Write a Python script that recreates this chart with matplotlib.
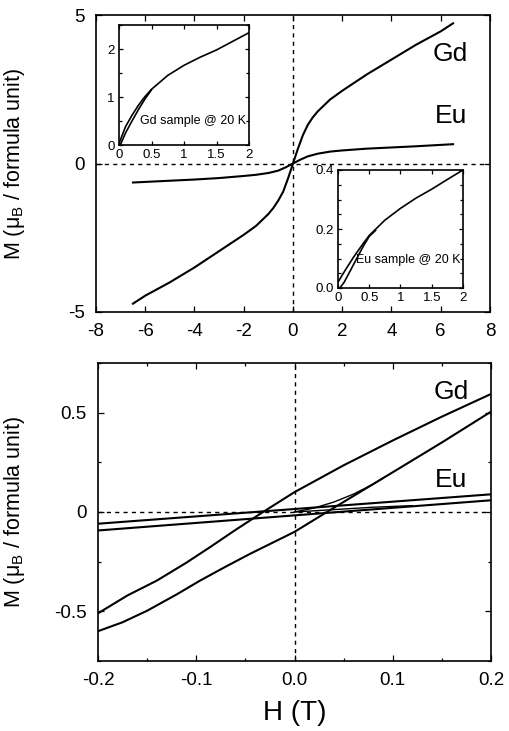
import matplotlib
matplotlib.use("Agg")
import matplotlib.pyplot as plt
from matplotlib.ticker import MultipleLocator

plt.rcParams['font.family'] = ['Liberation Sans', 'DejaVu Sans']
plt.rcParams['mathtext.default'] = 'regular'
plt.rcParams['axes.unicode_minus'] = False

# Top panel: full M(H) curves at 20 K
gd_h = [-6.5, -6, -5, -4, -3, -2, -1.5, -1.0, -0.8, -0.6, -0.4, -0.2, 0,
        0.2, 0.4, 0.6, 0.8, 1.0, 1.5, 2, 3, 4, 5, 6, 6.5]
gd_m = [-4.72, -4.45, -4.0, -3.5, -2.95, -2.4, -2.1, -1.7, -1.5, -1.25, -0.95, -0.5, 0,
        0.5, 0.95, 1.3, 1.55, 1.75, 2.15, 2.45, 3.0, 3.5, 4.0, 4.45, 4.72]
eu_h = [-6.5, -5, -4, -3, -2, -1.5, -1, -0.6, -0.3, 0, 0.3, 0.6, 1, 1.5, 2, 3, 4, 5, 6.5]
eu_m = [-0.64, -0.58, -0.54, -0.49, -0.42, -0.38, -0.32, -0.24, -0.13, 0,
        0.13, 0.24, 0.33, 0.4, 0.44, 0.5, 0.54, 0.58, 0.65]

# Insets: low-field region
gd_in_h_up = [0, 0.1, 0.2, 0.3, 0.4, 0.5, 0.75, 1, 1.25, 1.5, 1.75, 2]
gd_in_m_up = [0.03, 0.38, 0.62, 0.83, 1.01, 1.16, 1.45, 1.66, 1.83, 1.98, 2.16, 2.34]
gd_in_h_lo = [0.02, 0.1, 0.2, 0.3, 0.4, 0.5]
gd_in_m_lo = [0, 0.25, 0.5, 0.74, 0.96, 1.15]
eu_in_h_up = [0, 0.1, 0.25, 0.4, 0.5, 0.75, 1, 1.25, 1.5, 1.75, 2]
eu_in_m_up = [0.02, 0.055, 0.105, 0.15, 0.178, 0.23, 0.27, 0.305, 0.335, 0.368, 0.4]
eu_in_h_lo = [0.03, 0.1, 0.25, 0.4, 0.5, 0.6]
eu_in_m_lo = [0, 0.02, 0.08, 0.14, 0.175, 0.195]

# Bottom panel: hysteresis near zero field
gd_desc_h = [-0.2, -0.17, -0.14, -0.11, -0.086, -0.06, -0.032, 0.0, 0.05, 0.1, 0.15, 0.2]
gd_desc_m = [-0.51, -0.42, -0.345, -0.255, -0.177, -0.09, 0.0, 0.1, 0.235, 0.36, 0.48, 0.594]
gd_asc_h = [-0.2, -0.175, -0.15, -0.12, -0.096, -0.07, -0.045, 0.0, 0.033, 0.1, 0.15, 0.2]
gd_asc_m = [-0.6, -0.555, -0.497, -0.415, -0.345, -0.275, -0.21, -0.1, 0.0, 0.2, 0.35, 0.505]
gd_virgin_h = [0, 0.02, 0.04, 0.06, 0.08, 0.09]
gd_virgin_m = [0, 0.02, 0.05, 0.09, 0.14, 0.17]
eu_desc_h = [-0.2, 0.2]
eu_desc_m = [-0.059, 0.089]
eu_asc_h = [-0.2, 0.2]
eu_asc_m = [-0.093, 0.059]
eu_virgin_h = [0, 0.04, 0.08, 0.12]
eu_virgin_m = [0, 0.012, 0.024, 0.032]

W, H = 510, 731
fig = plt.figure(figsize=(5.1, 7.31), dpi=100)


def box(l, t, r, b):
    return [l / W, 1 - b / H, (r - l) / W, (b - t) / H]


def style(ax, size, pad=6):
    ax.tick_params(which='both', direction='in', top=True, right=True,
                   labelsize=size, width=0.9, pad=pad)
    ax.tick_params(which='major', length=4)
    ax.tick_params(which='minor', length=2.5)
    for s in ax.spines.values():
        s.set_linewidth(1.2)


lw = 1.5

# top panel
ax1 = fig.add_axes(box(96, 15, 490, 312))
ax1.plot(gd_h, gd_m, color='black', lw=lw)
ax1.plot(eu_h, eu_m, color='black', lw=lw)
ax1.axhline(0, color='black', ls=(0, (3, 3)), lw=1.0)
ax1.axvline(0, color='black', ls=(0, (3, 3)), lw=1.0)
ax1.set_xlim(-8, 8)
ax1.set_ylim(-5, 5)
ax1.set_xticks([-8, -6, -4, -2, 0, 2, 4, 6, 8])
ax1.set_yticks([-5, 0, 5])
style(ax1, 13.5, pad=8)
ax1.set_ylabel('M (μ$_B$ / formula unit)', fontsize=15.5)
ax1.yaxis.set_label_coords(-0.175, 0.5)
ax1.text(6.4, 3.7, 'Gd', fontsize=19, ha='center', va='center')
ax1.text(6.4, 1.6, 'Eu', fontsize=19, ha='center', va='center')

# Gd inset
ins1 = fig.add_axes(box(119, 25, 249, 145))
ins1.plot(gd_in_h_up, gd_in_m_up, color='black', lw=1.2)
ins1.plot(gd_in_h_lo, gd_in_m_lo, color='black', lw=1.2)
ins1.set_xlim(0, 2)
ins1.set_ylim(0, 2.5)
ins1.set_xticks([0, 0.5, 1, 1.5, 2])
ins1.set_xticklabels(['0', '0.5', '1', '1.5', '2'])
ins1.set_yticks([0, 1, 2])
ins1.yaxis.set_minor_locator(MultipleLocator(0.5))
style(ins1, 9.5, pad=3)
ins1.tick_params(which='major', length=3)
ins1.text(1.14, 0.49, 'Gd sample @ 20 K', fontsize=9, ha='center', va='center')

# Eu inset
ins2 = fig.add_axes(box(338, 170, 463, 288))
ins2.plot(eu_in_h_up, eu_in_m_up, color='black', lw=1.2)
ins2.plot(eu_in_h_lo, eu_in_m_lo, color='black', lw=1.2)
ins2.set_xlim(0, 2)
ins2.set_ylim(0, 0.4)
ins2.set_xticks([0, 0.5, 1, 1.5, 2])
ins2.set_xticklabels(['0', '0.5', '1', '1.5', '2'])
ins2.set_yticks([0, 0.2, 0.4])
ins2.set_yticklabels(['0.0', '0.2', '0.4'])
ins2.yaxis.set_minor_locator(MultipleLocator(0.05))
style(ins2, 9.5, pad=3)
ins2.tick_params(which='major', length=3)
ins2.text(1.13, 0.094, 'Eu sample @ 20 K', fontsize=9, ha='center', va='center')

# bottom panel
ax2 = fig.add_axes(box(98, 363, 491, 661))
ax2.plot(gd_desc_h, gd_desc_m, color='black', lw=lw)
ax2.plot(gd_asc_h, gd_asc_m, color='black', lw=lw)
ax2.plot(gd_virgin_h, gd_virgin_m, color='black', lw=1.0)
ax2.plot(eu_desc_h, eu_desc_m, color='black', lw=lw)
ax2.plot(eu_asc_h, eu_asc_m, color='black', lw=lw)
ax2.plot(eu_virgin_h, eu_virgin_m, color='black', lw=1.0)
ax2.axhline(0, color='black', ls=(0, (3, 3)), lw=1.0)
ax2.axvline(0, color='black', ls=(0, (3, 3)), lw=1.0)
ax2.set_xlim(-0.2, 0.2)
ax2.set_ylim(-0.75, 0.75)
ax2.set_xticks([-0.2, -0.1, 0.0, 0.1, 0.2])
ax2.set_xticklabels(['-0.2', '-0.1', '0.0', '0.1', '0.2'])
ax2.xaxis.set_minor_locator(MultipleLocator(0.05))
ax2.set_yticks([-0.5, 0, 0.5])
ax2.set_yticklabels(['-0.5', '0', '0.5'])
ax2.yaxis.set_minor_locator(MultipleLocator(0.25))
style(ax2, 13.5, pad=8)
ax2.set_ylabel('M (μ$_B$ / formula unit)', fontsize=15.5)
ax2.yaxis.set_label_coords(-0.18, 0.5)
ax2.set_xlabel('H (T)', fontsize=20)
ax2.xaxis.set_label_coords(0.5, -0.13)
ax2.text(0.16, 0.606, 'Gd', fontsize=19, ha='center', va='center')
ax2.text(0.159, 0.16, 'Eu', fontsize=19, ha='center', va='center')

fig.savefig('out.png', dpi=100)
